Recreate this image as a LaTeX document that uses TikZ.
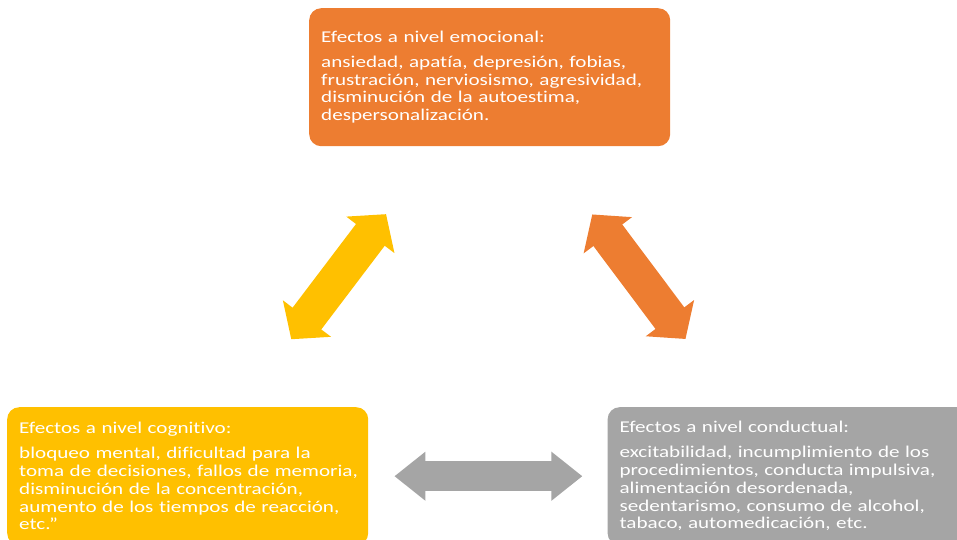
\documentclass[tikz,border=0pt]{standalone}
\usepackage{fontspec}
\setmainfont{Carlito}[FakeStretch=1.28, Ligatures=NoCommon]
\usepackage{xcolor}
\usetikzlibrary{arrows.meta}
\usetikzlibrary{positioning}

\definecolor{emoorange}{HTML}{ED7D31}
\definecolor{cogyellow}{HTML}{FFC000}
\definecolor{condgray}{HTML}{A5A5A5}

\newcommand\boxfont{\fontsize{16.5}{17.7}\selectfont}
\newcommand\boxpar{\leftskip=4pt\relax\hyphenpenalty=10000\relax}

\begin{document}
\begin{tikzpicture}
  [
    x = 1pt, y = -1pt,
    box/.style = {rectangle, rounded corners = 12pt, text = white,
                  text width = 345pt, inner xsep = 8pt,
                  minimum height = 138pt, align = left, font = \boxfont,
                  execute at begin node = \boxpar},
    emobox/.style = {box, fill = emoorange},
    cogbox/.style = {box, fill = cogyellow},
    condbox/.style = {box, fill = condgray},
    fatarrow/.style = {line width = 36pt,
                       {Triangle[width = 59pt, length = 26pt]}-{Triangle[width = 59pt, length = 26pt]}},
    flatarrow/.style = {line width = 30pt,
                        {Triangle[width = 47pt, length = 31pt]}-{Triangle[width = 47pt, length = 31pt]}},
  ]
  \clip (0,0) rectangle (957,539);
  \node[emobox, anchor = north west] (emo) at (309,8)
      {Efectos a nivel emocional:\\[7.3pt]
       ansiedad, apatía, depresión, fobias,\\
       frustración, nerviosismo, agresividad,\\
       disminución de la autoestima,\\
       despersonalización.};
  \node[cogbox, anchor = north west] (cog) at (7,407)
      {Efectos a nivel cognitivo:\\[7.3pt]
       bloqueo mental, dificultad para la\\
       toma de decisiones, fallos de memoria,\\
       disminución de la concentración,\\
       aumento de los tiempos de reacción,\\
       etc.”};
  \node[condbox] [right = 239pt of cog] (cond)
      {Efectos a nivel conductual:\\[7.3pt]
       excitabilidad, incumplimiento de los\\
       procedimientos, conducta impulsiva,\\
       alimentación desordenada,\\
       sedentarismo, consumo de alcohol,\\
       tabaco, automedicación, etc.};

  \draw[fatarrow, cogyellow, shorten < = 85pt, shorten > = 85pt] (cog) -- (emo);
  \draw[fatarrow, emoorange, shorten < = 85pt, shorten > = 85pt] (emo) -- (cond);
  \draw[flatarrow, condgray, shorten < = 26pt, shorten > = 25pt] (cog) -- (cond);
\end{tikzpicture}
\end{document}
